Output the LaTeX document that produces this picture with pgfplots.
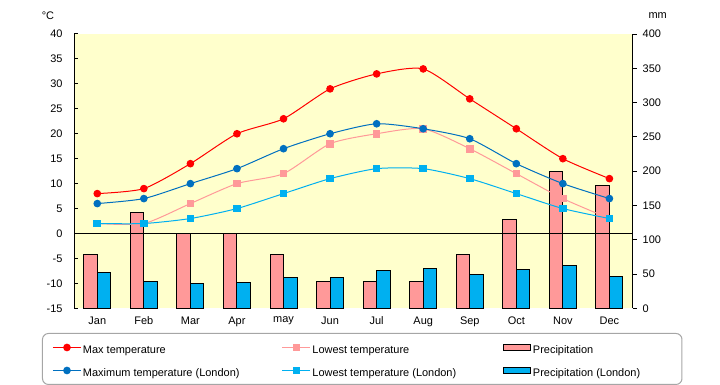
\documentclass[border=0pt]{standalone}
\usepackage{fontspec}
\setmainfont{Liberation Sans}
\usepackage{pgfplots}
\pgfplotsset{compat=1.18}
\definecolor{bgy}{HTML}{FFFFCC}
\definecolor{maxr}{HTML}{FF0000}
\definecolor{lowp}{HTML}{FF9999}
\definecolor{maxb}{HTML}{0070C0}
\definecolor{lowc}{HTML}{00B0F0}
\definecolor{legb}{HTML}{A6A6A6}
\begin{document}
\begin{tikzpicture}[font=\fontsize{11}{13}\selectfont]
\path (0,0) rectangle (720bp,385bp);
% precipitation axis (right)
\begin{axis}[
  at={(74bp,76.7bp)}, anchor=south west,
  scale only axis, width=558.7bp, height=274.3bp,
  xmin=-0.5, xmax=11.5, ymin=0, ymax=400,
  axis background/.style={fill=bgy},
  axis x line=none,
  axis y line*=right,
  y axis line style={line width=1bp, black},
  ytick={0,50,...,400},
  tick align=outside, major tick length=4bp,
  ytick style={line width=1bp, black},
  yticklabel style={xshift=2.5bp},
  /pgf/number format/assume math mode=true,
  ybar=0pt, bar width=13.5bp,
]
\addplot[draw=black, fill=lowp, line width=1bp] coordinates {
(0,78) (1,140) (2,109) (3,109) (4,78) (5,39) (6,39) (7,39) (8,78) (9,129) (10,200) (11,179)};
\addplot[draw=black, fill=lowc, line width=1bp] coordinates {
(0,52) (1,39) (2,36) (3,37.5) (4,45) (5,45) (6,55) (7,58) (8,49) (9,56.5) (10,62) (11,46)};
\end{axis}
% temperature axis (left)
\begin{axis}[
  at={(74bp,76.7bp)}, anchor=south west,
  scale only axis, width=558.7bp, height=274.3bp,
  xmin=-0.5, xmax=11.5, ymin=-15, ymax=40,
  clip mode=individual,
  axis x line*=bottom, x axis line style={draw=none},
  axis y line*=left,
  y axis line style={line width=1bp, black},
  xtick={0,...,11},
  xticklabels={Jan,Feb,Mar,Apr,may,Jun,Jul,Aug,Sep,Oct,Nov,Dec},
  xtick style={draw=none},
  xticklabel style={yshift=-5bp},
  ytick={-15,-10,...,40},
  tick align=inside, major tick length=4bp,
  ytick style={line width=1bp, black},
  yticklabel style={xshift=-8bp},
  extra y ticks={0}, extra y tick labels={},
  extra y tick style={grid=major, major grid style={black, line width=1bp}},
  /pgf/number format/assume math mode=true,
  legend image code/.code={\draw[mark repeat=2,mark phase=2,#1] plot coordinates {(0bp,0bp) (14bp,0bp) (28bp,0bp)};},
  legend columns=3,
  legend cell align=left,
  legend style={at={(-0.0573,-0.0900)}, anchor=north west,
    draw=legb, line width=1bp, rounded corners=6bp, fill=white,
    inner xsep=10bp, inner ysep=7bp,
    nodes={inner sep=0pt, text height=13bp, text depth=1bp},
    row sep=9bp,
    /tikz/every odd column/.append style={column sep=1.5bp},
    /tikz/every even column/.append style={column sep=0bp},
  },
]
\addplot[maxr, line width=1bp, smooth, tension=0.4, mark=*, mark size=3.3bp, mark options={solid, fill=maxr, draw=maxr}] coordinates {
(0,8) (1,9) (2,14) (3,20) (4,23) (5,29) (6,32) (7,33) (8,27) (9,21) (10,15) (11,11)};
\addlegendentry{\makebox[199bp][l]{Max temperature}}
\addplot[lowp, line width=1bp, smooth, tension=0.4, mark=square*, mark size=3.3bp, mark options={solid, fill=lowp, draw=lowp}] coordinates {
(0,2) (1,2) (2,6) (3,10) (4,12) (5,18) (6,20) (7,21) (8,17) (9,12) (10,7) (11,3)};
\addlegendentry{\makebox[191bp][l]{Lowest temperature}}
\addlegendimage{legend image code/.code={\draw[draw=black, fill=lowp, line width=1bp, sharp corners] (0bp,-3bp) rectangle (27bp,3bp);}}
\addlegendentry{\makebox[139bp][l]{Precipitation}}
\addplot[maxb, line width=1bp, smooth, tension=0.4, mark=*, mark size=3.3bp, mark options={solid, fill=maxb, draw=maxb}] coordinates {
(0,6) (1,7) (2,10) (3,13) (4,17) (5,20) (6,22) (7,21) (8,19) (9,14) (10,10) (11,7)};
\addlegendentry{\makebox[199bp][l]{Maximum temperature (London)}}
\addplot[lowc, line width=1bp, smooth, tension=0.4, mark=square*, mark size=3.3bp, mark options={solid, fill=lowc, draw=lowc}] coordinates {
(0,2) (1,2) (2,3) (3,5) (4,8) (5,11) (6,13) (7,13) (8,11) (9,8) (10,5) (11,3)};
\addlegendentry{\makebox[191bp][l]{Lowest temperature (London)}}
\addlegendimage{legend image code/.code={\draw[draw=black, fill=lowc, line width=1bp, sharp corners] (0bp,-3bp) rectangle (27bp,3bp);}}
\addlegendentry{\makebox[139bp][l]{Precipitation (London)}}
\node at (rel axis cs:0,1) [xshift=-26bp, yshift=18bp] {°C};
\node at (rel axis cs:1,1) [xshift=25bp, yshift=18bp] {mm};
\end{axis}
\end{tikzpicture}
\end{document}
